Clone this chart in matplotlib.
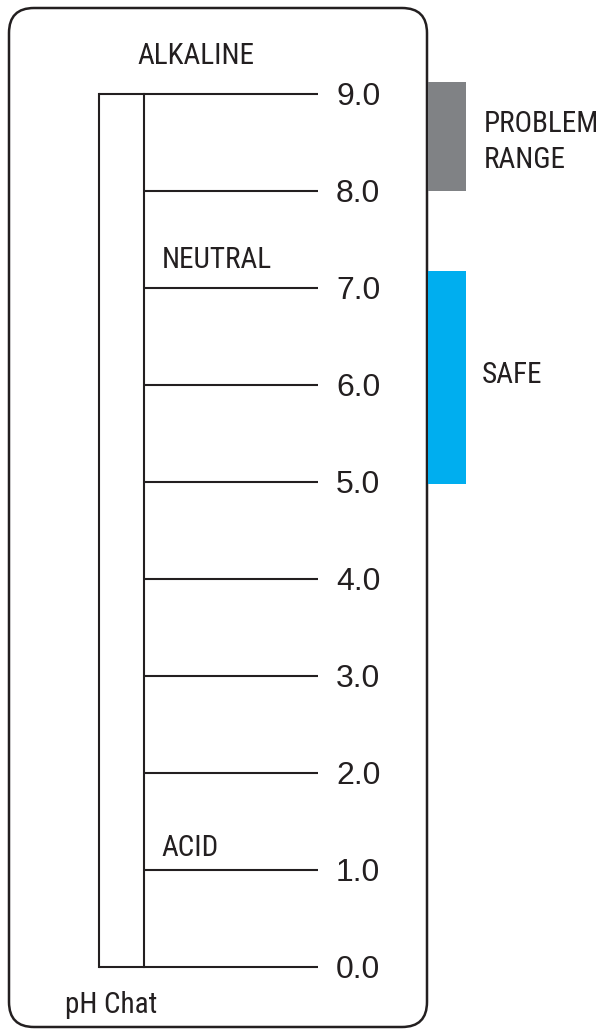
import matplotlib
matplotlib.use("Agg")
import matplotlib.pyplot as plt
from matplotlib.patches import FancyBboxPatch, Rectangle

# ---- data ----
ph_levels = [9.0, 8.0, 7.0, 6.0, 5.0, 4.0, 3.0, 2.0, 1.0, 0.0]
tick_labels = ["9.0", "8.0", "7.0", "6.0", "5.0", "4.0", "3.0", "2.0", "1.0", "0.0"]
problem_range = (8.0, 9.12)
safe_range = (4.98, 7.17)
zone_labels = ["ALKALINE", "NEUTRAL", "ACID"]
title_text = "pH Chat"
range_labels = ["PROBLEM", "RANGE", "SAFE"]

INK = "#231f20"
GRAY = "#808285"
BLUE = "#00aeef"

word_kw = dict(family=["Roboto Condensed", "Archivo Narrow", "DejaVu Sans"],
               fontsize=21, color=INK)
num_kw = dict(family=["Liberation Sans", "DejaVu Sans"], fontsize=23, color=INK)

W, H = 604, 1030
fig = plt.figure(figsize=(W / 100, H / 100), dpi=100)

# background axes in pixel units (for the rounded frame and annotations)
bg = fig.add_axes([0, 0, 1, 1])
bg.set_xlim(0, W)
bg.set_ylim(H, 0)
bg.axis("off")
frame = FancyBboxPatch((9, 8), 418, 1019, boxstyle="round,pad=0,rounding_size=25",
                       fill=False, edgecolor=INK, linewidth=1.8, zorder=3)
bg.add_patch(frame)

# main axes in pH units
ax = fig.add_axes([0, 0, 1, 1], facecolor="none")
ax.set_xlim(0, W)
ax.set_ylim(-0.654, 9.965)
ax.axis("off")

top, bottom = max(ph_levels), min(ph_levels)
x_out, x_in, x_end = 99, 144, 318
ax.plot([x_out, x_out], [bottom, top], color=INK, lw=1.5, solid_capstyle="projecting")
ax.plot([x_in, x_in], [bottom, top], color=INK, lw=1.5)
for v, lab in zip(ph_levels, tick_labels):
    x0 = x_out if v in (top, bottom) else x_in
    ax.plot([x0, x_end], [v, v], color=INK, lw=1.5, solid_capstyle="butt")
    ax.text(336, v - 11 / 97.0, lab, ha="left", va="baseline", **num_kw)

# range bars
ax.add_patch(Rectangle((428, problem_range[0]), 38, problem_range[1] - problem_range[0],
                       facecolor=GRAY, edgecolor="none"))
ax.add_patch(Rectangle((428, safe_range[0]), 38, safe_range[1] - safe_range[0],
                       facecolor=BLUE, edgecolor="none"))

# annotations
bg.text(137, 64, zone_labels[0], ha="left", va="baseline", **word_kw)
bg.text(162, 268, zone_labels[1], ha="left", va="baseline", **word_kw)
bg.text(161, 856, zone_labels[2], ha="left", va="baseline", **word_kw)
bg.text(65, 1013, title_text, ha="left", va="baseline", **word_kw)
bg.text(484, 132, range_labels[0], ha="left", va="baseline", **word_kw)
bg.text(484, 168, range_labels[1], ha="left", va="baseline", **word_kw)
bg.text(482, 383, range_labels[2], ha="left", va="baseline", **word_kw)

fig.savefig("out.png", dpi=100)
